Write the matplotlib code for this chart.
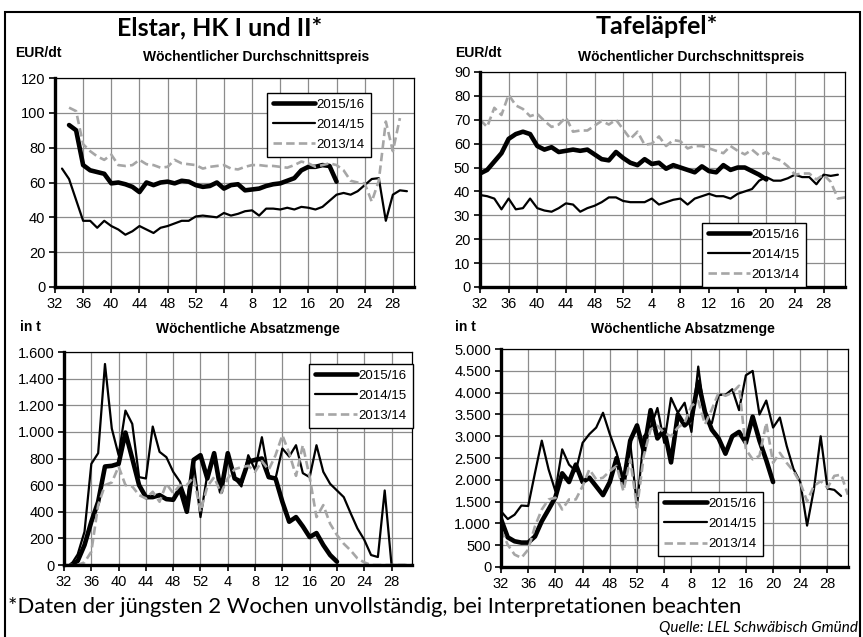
import numpy as np
import matplotlib
matplotlib.use("Agg")
import matplotlib.pyplot as plt
from matplotlib.patches import Rectangle
from matplotlib.ticker import FuncFormatter

# Kalenderwochen 32..52, 1..31
weeks = list(range(32, 53)) + list(range(1, 32))
tick_pos = list(range(0, 52, 4))
tick_labels = [str(weeks[i]) for i in tick_pos]
labels = ["2015/16", "2014/15", "2013/14"]

# Elstar, Preis EUR/dt (Beginn-Index in die Wochenliste)
el_preis_1516 = [93, 90, 70, 67, 66, 65, 59.5, 60, 59, 57.5, 54.5, 60, 58.5, 60, 60.5, 59.5, 61, 60.5, 58.5,
                 57.5, 58, 60, 56.5, 58.5, 59, 55.5, 56, 56.5, 58, 59, 59.5, 61, 62.5, 67, 69, 69, 70, 69.5, 60.5]
el_preis_1415 = [68, 62, 50, 38, 38, 34, 38, 35, 33, 30, 32, 35, 33, 31, 34, 35, 36.5, 38, 38, 40.5,
                 41, 40.5, 40, 42.5, 41, 42, 43.5, 44, 41, 45, 45, 44.5, 45.5, 44.5, 46, 45.5, 44.5, 46, 49.5, 53,
                 54, 53, 55, 58.5, 62, 62.5, 38, 53, 55.5, 55]
el_preis_1314 = [103, 101, 82, 78, 75, 73, 76, 70, 69.5, 70, 73, 70.5, 70, 68.5, 69, 73, 71, 70.5, 70,
                 68, 69, 69.5, 70, 68, 67.5, 69, 70, 70, 69.5, 69.5, 69, 68.5, 70, 72, 71, 69, 70, 71, 70,
                 67, 61, 60, 59.5, 49, 61, 95, 78, 97]
el_preis_start = [2, 1, 2]

# Tafeläpfel, Preis EUR/dt
ta_preis_1516 = [47.5, 49, 52.5, 56, 62, 64, 65, 64, 59, 57.5, 58.5, 56.5, 57, 57.5, 57, 57.5, 55.5, 53.5, 53, 56.5, 54,
                 52, 51, 53.5, 51.5, 52, 49.5, 51, 50, 49, 48, 50.5, 48.5, 48, 51, 49, 50, 50, 48.5, 47, 45]
ta_preis_1415 = [38.5, 38, 37, 32.5, 37, 32.5, 33, 37, 33, 32, 31.5, 33, 35, 34.5, 31.5, 33, 34, 35.5, 37.5, 37.5, 36,
                 35.5, 35.5, 35.5, 37, 34.5, 35.5, 36.5, 37, 34.5, 37, 38, 39, 38, 38, 37, 39, 40, 41, 44.5, 46,
                 44.5, 44.5, 45.5, 47, 46, 46, 43, 47, 46.5, 47]
ta_preis_1314 = [70, 67, 75, 72, 80.5, 76, 74.5, 71.5, 72.5, 69.5, 67, 68, 71, 65, 65.5, 65.5, 67.5, 69.5, 68, 70, 66,
                 62, 65, 59.5, 60, 63, 59, 61.5, 61, 58, 59, 59, 58, 57, 56, 59, 57, 55.5, 57.5, 55, 56.5,
                 54, 53, 50.5, 47, 47.5, 47.5, 45, 47, 44, 37, 37.5]
ta_preis_start = [0, 0, 0]

# Elstar, Absatzmenge in t
el_menge_1516 = [0, 30, 150, 325, 475, 740, 745, 760, 995, 800, 600, 510, 510, 525, 495, 490, 575, 400, 790, 825,
                 650, 840, 550, 840, 650, 625, 775, 790, 800, 660, 650, 475, 325, 360, 290, 210, 240, 150, 75, 25]
el_menge_1415 = [0, 80, 250, 760, 840, 1510, 1025, 825, 1160, 1060, 660, 650, 1040, 850, 810, 700, 625, 480, 775, 360,
                 680, 840, 575, 825, 650, 590, 825, 715, 960, 670, 650, 875, 815, 900, 690, 660, 900, 700, 610, 560,
                 510, 390, 275, 190, 75, 60, 560, 0, 0, 0]
el_menge_1314 = [0, 0, 0, 20, 100, 450, 600, 620, 740, 600, 590, 525, 500, 550, 475, 610, 540, 600, 600, 660, 400,
                 590, 660, 540, 650, 720, 735, 745, 700, 780, 715, 825, 975, 840, 670, 900, 660, 360, 450, 310, 225,
                 160, 110, 50, 20, 0, 0, 0, 0, 0, 0, 0]
el_menge_start = [1, 1, 0]

# Tafeläpfel, Absatzmenge in t
ta_menge_1516 = [1100, 680, 590, 560, 560, 700, 1050, 1320, 1600, 2150, 1950, 2350, 1950, 2050, 1850, 1650, 1950,
                 2500, 1900, 2900, 3250,
                 2650, 3600, 2950, 3150, 2400, 3500, 3250, 3400, 4250, 3550, 3150, 2950, 2600, 3000, 3100, 2850,
                 3450, 2900, 2450, 1950]
ta_menge_1415 = [1280, 1100, 1200, 1410, 1400, 2160, 2900, 2240, 1740, 2700, 2350, 2200, 2850, 3050, 3200, 3540, 3050,
                 2620, 2000, 2850, 1400,
                 3000, 3200, 3650, 2850, 3880, 3540, 3770, 3100, 4600, 3400, 3300, 3950, 3950, 4080, 3600, 4400,
                 4500, 3500, 3820, 3200, 3430, 2780, 2250, 1950, 950, 1780, 3000, 1800, 1770, 1630]
ta_menge_1314 = [860, 510, 285, 210, 400, 935, 1320, 1550, 1590, 1320, 1550, 1550, 1855, 2240, 2010, 2050, 2200,
                 2320, 1740, 2470, 1360,
                 2550, 3160, 3240, 3080, 3000, 3200, 3310, 3700, 3810, 3275, 3620, 4000, 3930, 4000, 4160, 2700,
                 2470, 2550, 3310, 2390, 2620, 2390, 2200, 1930, 1510, 1860, 1970, 1820, 2090, 2120, 1660]
ta_menge_start = [0, 0, 0]

styles = [
    dict(color="black", lw=3.3, solid_capstyle="round", solid_joinstyle="round"),
    dict(color="black", lw=1.6, solid_capstyle="round", solid_joinstyle="round"),
    dict(color="#a6a6a6", lw=1.9, dashes=(3.2, 1.6)),
]

TICKFONT = "Liberation Sans"


def pad(vals, start):
    arr = np.full(len(weeks), np.nan)
    arr[start:start + len(vals)] = vals
    return arr


def de_fmt(v, pos):
    return f"{int(v):,}".replace(",", ".")


def panel(rect, series, starts, ymax, ystep, leg_anchor):
    ax = fig.add_axes(rect)
    x = np.arange(len(weeks))
    for vals, st, sty, lab in zip(series, starts, styles, labels):
        ax.plot(x, pad(vals, st), label=lab, **sty)
    ax.set_xlim(0, 51)
    ax.set_ylim(0, ymax)
    ax.set_xticks(tick_pos)
    ax.set_xticklabels(tick_labels)
    ax.set_yticks(np.arange(0, ymax + 1, ystep))
    ax.yaxis.set_major_formatter(FuncFormatter(de_fmt))
    ax.grid(True, color="#8c8c8c", lw=0.9)
    ax.set_axisbelow(True)
    for s in ["left", "bottom"]:
        ax.spines[s].set_linewidth(2.4)
    for s in ["top", "right"]:
        ax.spines[s].set_linewidth(0.9)
    ax.tick_params(direction="out", length=4, width=1.2, labelsize=10.5, pad=3)
    for t in ax.get_xticklabels() + ax.get_yticklabels():
        t.set_family(TICKFONT)
    leg = ax.legend(loc="upper left", bbox_to_anchor=leg_anchor, frameon=True, fancybox=False,
                    edgecolor="black", framealpha=1, handlelength=3.2, handletextpad=0.15,
                    labelspacing=0.6, borderpad=0.45, prop={"family": TICKFONT, "size": 9.5})
    leg.get_frame().set_linewidth(1.0)
    return ax


fig = plt.figure(figsize=(8.63, 6.37), dpi=100)

panel([0.0637, 0.5495, 0.416, 0.328], [el_preis_1516, el_preis_1415, el_preis_1314], el_preis_start,
      120, 20, (0.571, 0.962))
panel([0.5562, 0.5495, 0.423, 0.3375], [ta_preis_1516, ta_preis_1415, ta_preis_1314], ta_preis_start,
      90, 10, (0.589, 0.330))
panel([0.0742, 0.113, 0.4032, 0.3344], [el_menge_1516, el_menge_1415, el_menge_1314], el_menge_start,
      1600, 200, (0.684, 0.977))
panel([0.5805, 0.1099, 0.402, 0.342], [ta_menge_1516, ta_menge_1415, ta_menge_1314], ta_menge_start,
      5000, 500, (0.435, 0.376))

# Ueberschriften
fig.text(0.255, 0.956, "Elstar, HK I und II*", family="Lato", weight="bold", size=18, ha="center", va="center")
fig.text(0.761, 0.958, "Tafeläpfel*", family="Lato", weight="bold", size=18, ha="center", va="center")
bold = dict(family=TICKFONT, weight="bold", size=10, va="center")
fig.text(0.0174, 0.917, "EUR/dt", **bold)
fig.text(0.2966, 0.9105, "Wöchentlicher Durchschnittspreis", ha="center", **bold)
fig.text(0.527, 0.917, "EUR/dt", **bold)
fig.text(0.8007, 0.9105, "Wöchentlicher Durchschnittspreis", ha="center", **bold)
fig.text(0.0232, 0.4867, "in t", **bold)
fig.text(0.287, 0.4835, "Wöchentliche Absatzmenge", ha="center", **bold)
fig.text(0.527, 0.4867, "in t", **bold)
fig.text(0.7914, 0.4835, "Wöchentliche Absatzmenge", ha="center", **bold)

fig.text(0.0093, 0.047, "*Daten der jüngsten 2 Wochen unvollständig, bei Interpretationen beachten",
         family="Lato", size=15.8, va="center")
fig.text(0.994, 0.0141, "Quelle: LEL Schwäbisch Gmünd", family="Lato", style="italic", size=11,
         ha="right", va="center")

fig.patches.append(Rectangle((5 / 863, -0.05), 855 / 863, 1 - 12 / 637 + 0.05, transform=fig.transFigure,
                             fill=False, edgecolor="black", lw=1.5))

fig.savefig("out.png", dpi=100)
